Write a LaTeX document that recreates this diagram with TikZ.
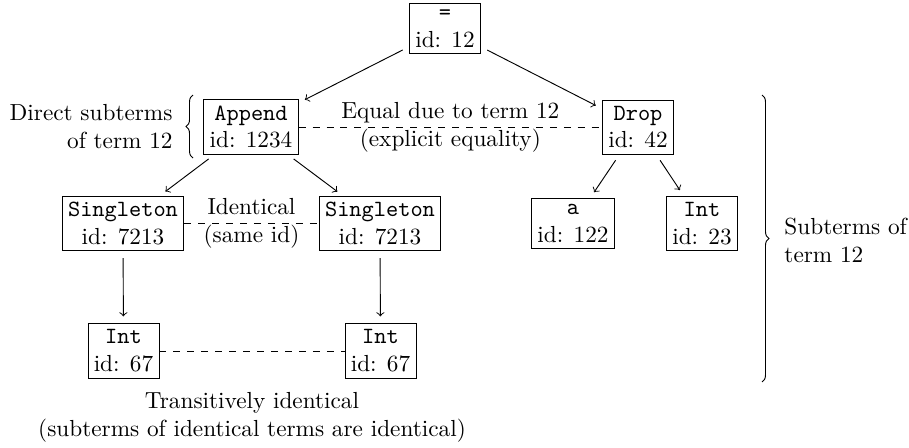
\documentclass[tikz,border=0pt]{standalone}
\usetikzlibrary{decorations.pathreplacing}
\begin{document}
\begin{tikzpicture}[x=0.43pt,y=-0.43pt,
  term/.style={draw, align=center, inner sep=2.5pt},
  conn/.style={->, shorten >=3pt, shorten <=3pt},
  same/.style={dashed},
  lbl/.style={align=center, inner sep=0pt},
  brc/.style={decorate, decoration={brace, amplitude=3pt}}]
\useasboundingbox (0,0) rectangle (909,447);
\node[term] (eq) at (445,28.5) {\texttt{=}\\id: 12};
\node[term] (app) at (251,127) {\texttt{Append}\\id: 1234};
\node[term] (drop) at (638,127) {\texttt{Drop}\\id: 42};
\node[term] (s1) at (123,223.5) {\texttt{Singleton}\\id: 7213};
\node[term] (s2) at (380,223.5) {\texttt{Singleton}\\id: 7213};
\node[term] (a) at (573,223.5) {\texttt{a}\\id: 122};
\node[term] (i23) at (702,223.5) {\texttt{Int}\\id: 23};
\node[term] (i1) at (123.5,351) {\texttt{Int}\\id: 67};
\node[term] (i2) at (380.5,351) {\texttt{Int}\\id: 67};

\draw[conn] (eq) -- (app);
\draw[conn] (eq) -- (drop);
\draw[conn] (app) -- (s1);
\draw[conn] (app) -- (s2);
\draw[conn] (drop) -- (a);
\draw[conn] (drop) -- (i23);
\draw[conn] (s1) -- (i1);
\draw[conn] (s2) -- (i2);

\draw[same] (app) -- node[lbl] {Equal due to term 12\\(explicit equality)} (drop);
\draw[same] (s1) -- node[lbl] {Identical\\(same id)} (s2);
\draw[same] (i1) -- (i2);
\node[lbl] (trans) at (252,417) {Transitively identical\\(subterms of identical terms are identical)};

\coordinate (b1s) at (193,158);
\coordinate (b1e) at (193,95);
\draw[brc] (b1s) -- (b1e);
\node[lbl, align=right, anchor=east] (dl) at (173,127) {Direct subterms\\of term 12};
\coordinate (b2s) at (762,95);
\coordinate (b2e) at (762,382);
\draw[brc] (b2s) -- (b2e);
\node[lbl, align=left, anchor=west] (sl) at (784,240) {Subterms of\\term 12};
\end{tikzpicture}
\end{document}
